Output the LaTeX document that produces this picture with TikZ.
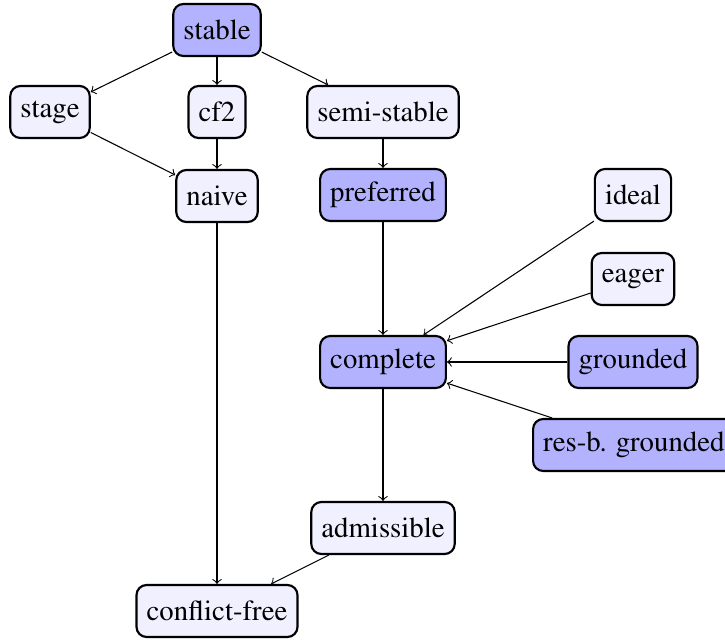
\documentclass[tikz,border=0pt]{standalone}
\usepackage[T1]{fontenc}
\usepackage{times}
\begin{document}
\begin{tikzpicture}[x=0.375pt,y=-0.375pt,
  sem/.style={draw=black, line width=0.8pt, rounded corners=3.8pt, minimum height=19.5pt, inner xsep=3.8pt, font=\fontsize{10.8pt}{12pt}\selectfont},
  dark/.style={sem, fill=blue!30},
  light/.style={sem, fill=blue!6},
  arr/.style={->, line width=0.4pt}]
\useasboundingbox (0,0) rectangle (725,642);
\node[dark]  (stable)   at (217,30)  {stable};
\node[light] (stage)    at (50,112)  {stage};
\node[light] (cf2)      at (217,112) {cf2};
\node[light] (semi)     at (383,112) {semi-stable};
\node[light] (naive)    at (217,196) {naive};
\node[dark]  (pref)     at (383,195) {preferred};
\node[light] (ideal)    at (633,195) {ideal};
\node[light] (eager)    at (633,279) {eager};
\node[dark]  (complete) at (383,362) {complete};
\node[dark]  (grounded) at (633,362) {grounded};
\node[dark, anchor=west] (resb) at (532,445) {res-b. grounded};
\node[light] (adm)      at (383,528) {admissible};
\node[light] (cfree)    at (217,611) {conflict-free};
\draw[arr] (stable) -- (stage);
\draw[arr] (stable) -- (cf2);
\draw[arr] (stable) -- (semi);
\draw[arr] (stage) -- (naive);
\draw[arr] (cf2) -- (naive);
\draw[arr] (semi) -- (pref);
\draw[arr] (naive) -- (cfree);
\draw[arr] (pref) -- (complete);
\draw[arr] (ideal) -- (complete);
\draw[arr] (eager) -- (complete);
\draw[arr] (grounded) -- (complete);
\draw[arr] (resb) -- (complete);
\draw[arr] (complete) -- (adm);
\draw[arr] (adm) -- (cfree);
\end{tikzpicture}
\end{document}
